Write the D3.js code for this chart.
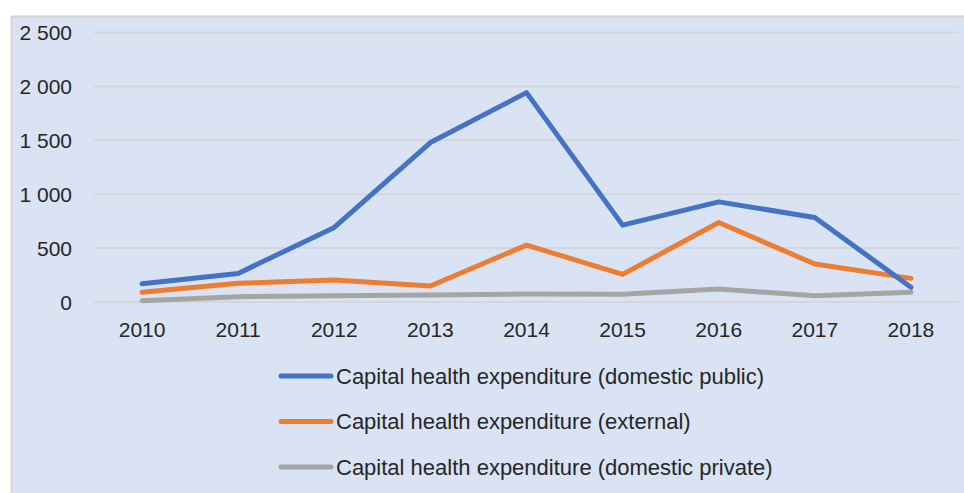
<!DOCTYPE html>
<html>
<head>
<meta charset="utf-8">
<script src="https://cdn.jsdelivr.net/npm/d3@7"></script>
<style>
  body { margin: 0; background: #fff; }
  text { font-family: "Liberation Sans", Arial, sans-serif; fill: #262626; }
</style>
</head>
<body>
<svg id="chart"></svg>
<script>
var years = ["2010","2011","2012","2013","2014","2015","2016","2017","2018"];
var domesticPublic = [170, 265, 692, 1479, 1942, 713, 929, 784, 136];
var external = [90, 173, 204, 148, 528, 256, 738, 352, 219];
var domesticPrivate = [12, 49, 58, 65, 74, 71, 120, 58, 90];
var yTicks = [0, 500, 1000, 1500, 2000, 2500];
var seriesNames = [
  "Capital health expenditure (domestic public)",
  "Capital health expenditure (external)",
  "Capital health expenditure (domestic private)"
];
var seriesColors = ["#4472C4", "#ED7D31", "#A5A5A5"];

var svgWidth = 964, svgHeight = 493;
var svg = d3.select("#chart")
  .attr("width", svgWidth)
  .attr("height", svgHeight);

// chart area background
svg.append("rect")
  .attr("x", 11.5).attr("y", 16.5)
  .attr("width", 960).attr("height", 480)
  .attr("fill", "#DAE3F3")
  .attr("stroke", "#D4D4D4")
  .attr("stroke-width", 2);

var xScale = d3.scaleBand()
  .domain(years)
  .range([94, 959]);

var yScale = d3.scaleLinear()
  .domain([0, 2500])
  .range([302, 32.5]);

var fmt = function(d) { return d3.format(",")(d).replace(/,/g, " "); };

// gridlines
svg.append("g")
  .selectAll("line")
  .data(yTicks)
  .enter()
  .append("line")
  .attr("x1", 94).attr("x2", 959)
  .attr("y1", function(d){ return yScale(d); })
  .attr("y2", function(d){ return yScale(d); })
  .attr("stroke", "#D3D6DB")
  .attr("stroke-width", 2);

// y axis labels
var y_axis = d3.axisLeft(yScale).tickValues(yTicks).tickFormat(fmt).tickSize(0).tickPadding(0);
var gy = svg.append("g")
  .attr("transform", "translate(72,0)")
  .call(y_axis);
gy.select(".domain").remove();
gy.selectAll("text")
  .attr("font-size", "21px")
  .attr("font-family", "Liberation Sans, Arial, sans-serif")
  .attr("fill", "#262626")
  .attr("dy", "0.35em");

// x axis labels
var x_axis = d3.axisBottom(xScale).tickSize(0).tickPadding(0);
var gx = svg.append("g")
  .attr("transform", "translate(0,330)")
  .call(x_axis);
gx.select(".domain").remove();
gx.selectAll("text")
  .attr("font-size", "21px")
  .attr("font-family", "Liberation Sans, Arial, sans-serif")
  .attr("fill", "#262626")
  .attr("dy", "0.35em");

var line = d3.line()
  .x(function(d, i){ return xScale(years[i]) + xScale.bandwidth() / 2; })
  .y(function(d){ return yScale(d); });

var allSeries = [domesticPrivate, external, domesticPublic];
var allColors = [seriesColors[2], seriesColors[1], seriesColors[0]];

svg.append("g")
  .selectAll("path")
  .data(allSeries)
  .enter()
  .append("path")
  .attr("d", function(d){ return line(d); })
  .attr("fill", "none")
  .attr("stroke", function(d, i){ return allColors[i]; })
  .attr("stroke-width", 5)
  .attr("stroke-linejoin", "round")
  .attr("stroke-linecap", "round");

// legend
var legend = svg.append("g")
  .selectAll("g")
  .data(seriesNames)
  .enter()
  .append("g")
  .attr("transform", function(d, i){ return "translate(280," + (376 + i * 45.5) + ")"; });

legend.append("line")
  .attr("x1", 1).attr("x2", 51)
  .attr("y1", 0).attr("y2", 0)
  .attr("stroke", function(d, i){ return seriesColors[i]; })
  .attr("stroke-width", 5)
  .attr("stroke-linecap", "round");

legend.append("text")
  .attr("x", 56)
  .attr("dy", "0.35em")
  .attr("font-size", "22px")
  .text(function(d){ return d; });
</script>
</body>
</html>
